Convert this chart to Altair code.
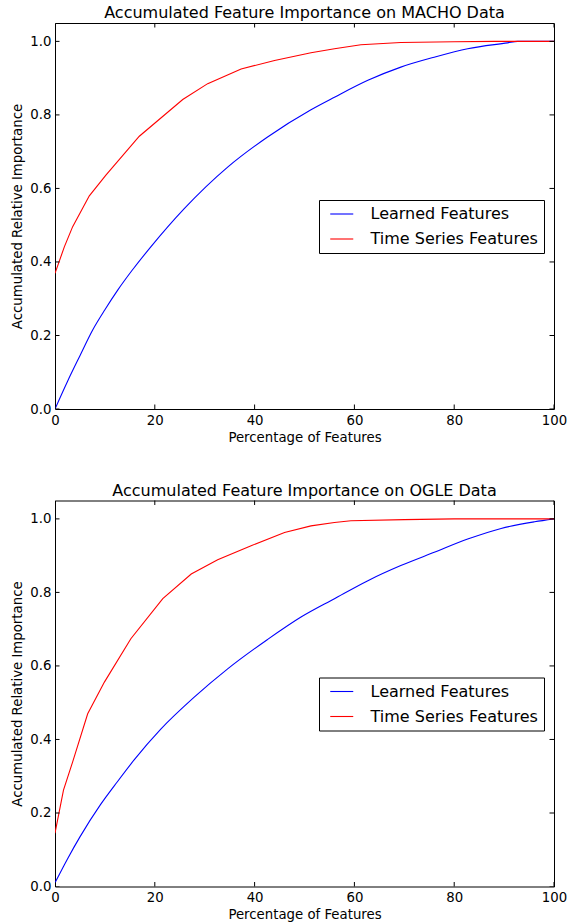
import altair as alt
import pandas as pd

FONT = "DejaVu Sans"

# ---- data ----
macho_learned_x = [0, 2.5, 5, 7.55, 10, 12.6, 15.5, 19.2, 25.9, 34.6, 42.6, 51.3, 56, 62.7, 69.3, 76, 82.7, 90.7, 92.7, 100]
macho_learned_y = [0.0, 0.075, 0.145, 0.215, 0.270, 0.324, 0.378, 0.441, 0.545, 0.658, 0.740, 0.814, 0.848, 0.894, 0.930, 0.957, 0.980, 0.996, 1.0, 1.0]

macho_ts_x = [0, 1.87, 3.54, 6.88, 10.2, 16.9, 25.6, 30.6, 37.3, 44, 51.3, 56, 61.3, 69.3, 80, 88, 100]
macho_ts_y = [0.369, 0.441, 0.496, 0.580, 0.636, 0.742, 0.842, 0.885, 0.925, 0.948, 0.969, 0.980, 0.991, 0.997, 0.999, 1.0, 1.0]

ogle_learned_x = [0, 2.5, 5, 9.08, 12.5, 15.9, 21.2, 27.9, 34.6, 42.6, 49.3, 56, 62.7, 69.3, 76, 82.7, 89.4, 96.1, 100]
ogle_learned_y = [0.01, 0.075, 0.135, 0.222, 0.285, 0.345, 0.428, 0.515, 0.592, 0.672, 0.733, 0.783, 0.832, 0.873, 0.909, 0.945, 0.974, 0.992, 1.0]

ogle_ts_x = [0, 1.7, 3.54, 6.55, 9.9, 15.2, 21.6, 27.3, 32.6, 39.3, 46, 51.3, 56, 59.3, 70, 80, 100]
ogle_ts_y = [0.145, 0.262, 0.339, 0.470, 0.556, 0.674, 0.783, 0.850, 0.889, 0.927, 0.963, 0.981, 0.990, 0.995, 0.998, 1.0, 1.0]

series_names = ["Learned Features", "Time Series Features"]
series_colors = ["#0000ff", "#ff0000"]
titles = ["Accumulated Feature Importance on MACHO Data", "Accumulated Feature Importance on OGLE Data"]

x_ticks = [0, 20, 40, 60, 80, 100]
y_ticks = [0.0, 0.2, 0.4, 0.6, 0.8, 1.0]
x_domain = [0, 100]
y_domain = [0, 1.05]


def panel(title, lx, ly, tx, ty):
    df_l = pd.DataFrame({"x": lx, "y": ly, "s": series_names[0]})
    df_t = pd.DataFrame({"x": tx, "y": ty, "s": series_names[1]})
    xs = alt.Scale(domain=x_domain, nice=False, zero=False)
    ys = alt.Scale(domain=y_domain, nice=False, zero=False)
    xaxis = alt.Axis(values=x_ticks, format="d", title="Percentage of Features",
                     ticks=False, domain=False, grid=False, labelPadding=4, titlePadding=4,
                     labelFlush=False)
    yaxis = alt.Axis(values=y_ticks, format=".1f", title="Accumulated Relative Importance",
                     ticks=False, domain=False, grid=False, labelPadding=4, titlePadding=5,
                     labelFlush=False)
    color = alt.Color("s:N", scale=alt.Scale(domain=series_names, range=series_colors),
                      legend=alt.Legend(title=None, orient="none", legendX=264, legendY=177))
    learned = alt.Chart(df_l).mark_line(strokeWidth=1.1, clip=True, interpolate="monotone").encode(
        x=alt.X("x:Q", scale=xs, axis=xaxis),
        y=alt.Y("y:Q", scale=ys, axis=yaxis),
        color=color,
    )
    ts = alt.Chart(df_t).mark_line(strokeWidth=1.1, clip=True).encode(
        x=alt.X("x:Q", scale=xs, axis=xaxis),
        y=alt.Y("y:Q", scale=ys, axis=yaxis),
        color=color,
    )
    xt = pd.DataFrame({"x": x_ticks})
    yt = pd.DataFrame({"y": y_ticks})
    tick_style = dict(size=9, thickness=1, color="black", opacity=1, clip=True)
    xb = alt.Chart(xt).mark_tick(orient="vertical", **tick_style).encode(
        x=alt.X("x:Q", scale=xs, axis=xaxis), y=alt.datum(y_domain[0]))
    xtp = alt.Chart(xt).mark_tick(orient="vertical", **tick_style).encode(
        x=alt.X("x:Q", scale=xs, axis=xaxis), y=alt.datum(y_domain[1]))
    yl = alt.Chart(yt).mark_tick(orient="horizontal", **tick_style).encode(
        y=alt.Y("y:Q", scale=ys, axis=yaxis), x=alt.datum(x_domain[0]))
    yr = alt.Chart(yt).mark_tick(orient="horizontal", **tick_style).encode(
        y=alt.Y("y:Q", scale=ys, axis=yaxis), x=alt.datum(x_domain[1]))
    return alt.layer(learned, ts, xb, xtp, yl, yr).properties(
        width=499, height=386,
        title=alt.TitleParams(text=title, fontSize=16, font=FONT, fontWeight="normal",
                              anchor="middle", frame="group", offset=2, color="black"),
    )


top = panel(titles[0], macho_learned_x, macho_learned_y, macho_ts_x, macho_ts_y)
bottom = panel(titles[1], ogle_learned_x, ogle_learned_y, ogle_ts_x, ogle_ts_y)

chart = alt.vconcat(top, bottom, spacing=36.5).resolve_scale(color="independent").configure(
    padding={"left": 10, "top": 4, "right": 0, "bottom": 0},
    background="white",
).configure_view(
    stroke="black", strokeWidth=1
).configure_axis(
    labelFont=FONT, labelFontSize=13.3, labelColor="black",
    titleFont=FONT, titleFontSize=13.3, titleFontWeight="normal", titleColor="black",
).configure_legend(
    labelFont=FONT, labelFontSize=16, labelColor="black", labelLimit=400,
    strokeColor="black", fillColor="white", padding=6, cornerRadius=0,
    symbolType="M-2,0L2,0", symbolStrokeWidth=1.1, symbolSize=132.25,
    symbolOffset=8.75, labelOffset=20.75, rowPadding=9,
)

chart.save("out.html", embed_options={"renderer": "svg", "actions": False})
